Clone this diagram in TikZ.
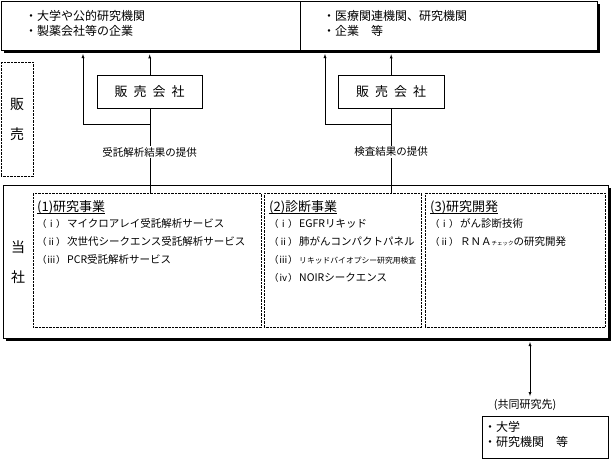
\documentclass[tikz,border=0pt]{standalone}
\usepackage{fontspec}
\setmainfont{Noto Sans CJK JP}
\usetikzlibrary{arrows,shadows}

\newcommand{\bizhead}[1]{\setbox0\hbox{\fontsize{13}{13}\selectfont #1}\rlap{\raisebox{-2.8pt}{\rule{\wd0}{1.2pt}}}\box0}
\newcommand{\bizline}[2]{\makebox[30pt][l]{\fontsize{9.5}{10}\selectfont #1}#2}

\tikzset{
	box/.style={draw, fill=white, inner sep=0pt, anchor=north west},
	shbox/.style={box, general shadow={fill=black, shadow xshift=3pt, shadow yshift=-3pt}},
	dotbox/.style={draw, densely dotted, inner sep=0pt, anchor=north west},
	custtxt/.style={anchor=north west, align=left, inner sep=0pt, font=\fontsize{12}{15}\selectfont},
	sectxt/.style={anchor=north west, align=left, inner sep=0pt, font=\fontsize{10.5}{18}\selectfont},
	sidetxt/.style={align=center, inner sep=0pt, font=\fontsize{14}{30}\selectfont},
	flowtxt/.style={fill=white, inner sep=1pt, font=\fontsize{10.5}{12}\selectfont}
}

\begin{document}
\begin{tikzpicture}[x=1pt, y=-1pt, >=latex]
	\useasboundingbox (0,0) rectangle (614,459);

	% customers
	\node[shbox, minimum width=299pt, minimum height=49pt] (custL) at (1,1) {};
	\node[shbox, minimum width=297pt, minimum height=49pt] (custR) at (300,1) {};
	\node[custtxt] (custLtxt) at (25,10) {・大学や公的研究機関\\・製薬会社等の企業};
	\node[custtxt] (custRtxt) at (323,10) {・医療関連機関、研究機関\\・企業　等};

	% sales
	\node[dotbox, minimum width=32pt, minimum height=114pt] (salesSide) at (1,62) {};
	\node[sidetxt] (salesSideTxt) at (salesSide.center) {販\\売};
	\node[box, minimum width=105pt, minimum height=33pt, font=\fontsize{13}{13}\selectfont] (sales1) at (97,75) {販\hspace{6pt}売\hspace{6pt}会\hspace{6pt}社};
	\node[box, minimum width=106pt, minimum height=33pt, font=\fontsize{13}{13}\selectfont] (sales2) at (338,75) {販\hspace{6pt}売\hspace{6pt}会\hspace{6pt}社};

	% company
	\node[shbox, minimum width=605pt, minimum height=153pt] (main) at (3,185) {};
	\node[sidetxt] (mainTxt) at (18,262) {当\\社};
	\node[dotbox, minimum width=228pt, minimum height=134pt] (biz1) at (33,193) {};
	\node[dotbox, minimum width=157pt, minimum height=134pt] (biz2) at (264,193) {};
	\node[dotbox, minimum width=180pt, minimum height=134pt] (biz3) at (425,193) {};
	\node[sectxt] (biz1txt) at (37,200) {\bizhead{(1)研究事業}\\[-2pt]
		\bizline{（ⅰ）}{マイクロアレイ受託解析サービス}\\
		\bizline{（ⅱ）}{次世代シークエンス受託解析サービス}\\
		\bizline{（ⅲ）}{PCR受託解析サービス}};
	\node[sectxt] (biz2txt) at (269,200) {\bizhead{(2)診断事業}\\[-2pt]
		\bizline{（ⅰ）}{EGFRリキッド}\\
		\bizline{（ⅱ）}{肺がんコンパクトパネル}\\
		\bizline{（ⅲ）}{{\fontsize{7.8}{8}\selectfont リキッドバイオプシー研究用検査}}\\
		\bizline{（ⅳ）}{NOIRシークエンス}};
	\node[sectxt] (biz3txt) at (430,200) {\bizhead{(3)研究開発}\\[-2pt]
		\bizline{（ⅰ）}{がん診断技術}\\
		\bizline{（ⅱ）}{ＲＮＡ{\fontsize{5.5}{6}\selectfont チェック}の研究開発}};

	% flows to customers
	\coordinate (br1) at (149.5,124);
	\coordinate (up1) at (83,50);
	\coordinate (br2) at (391,124);
	\coordinate (up2) at (325,50);
	\draw (sales1.south |- biz1.north) -- (sales1.south);
	\draw (sales2.south |- biz2.north) -- (sales2.south);
	\node[flowtxt] (flow1) at (149.5,152) {受託解析結果の提供};
	\node[flowtxt] (flow2) at (391,152) {検査結果の提供};
	\draw[->, shorten >=4pt] (sales1.north) -- (sales1.north |- custL.south);
	\draw[->, shorten >=4pt] (sales2.north) -- (sales2.north |- custR.south);
	\draw[->, shorten >=4pt] (br1) -| (up1);
	\draw[->, shorten >=4pt] (br2) -| (up2);

	% joint research
	\coordinate (jt) at (530,342);
	\node[inner sep=0pt, font=\fontsize{11}{12}\selectfont] (partnerLbl) at (525,405) {(共同研究先)};
	\node[box, minimum width=126pt, minimum height=42pt] (partner) at (482,416) {};
	\node[custtxt] (partnerTxt) at (484,421) {・大学\\・研究機関　等};
	\draw[<->, shorten >=3pt] (jt) -- (jt |- partnerLbl.north);
\end{tikzpicture}
\end{document}
